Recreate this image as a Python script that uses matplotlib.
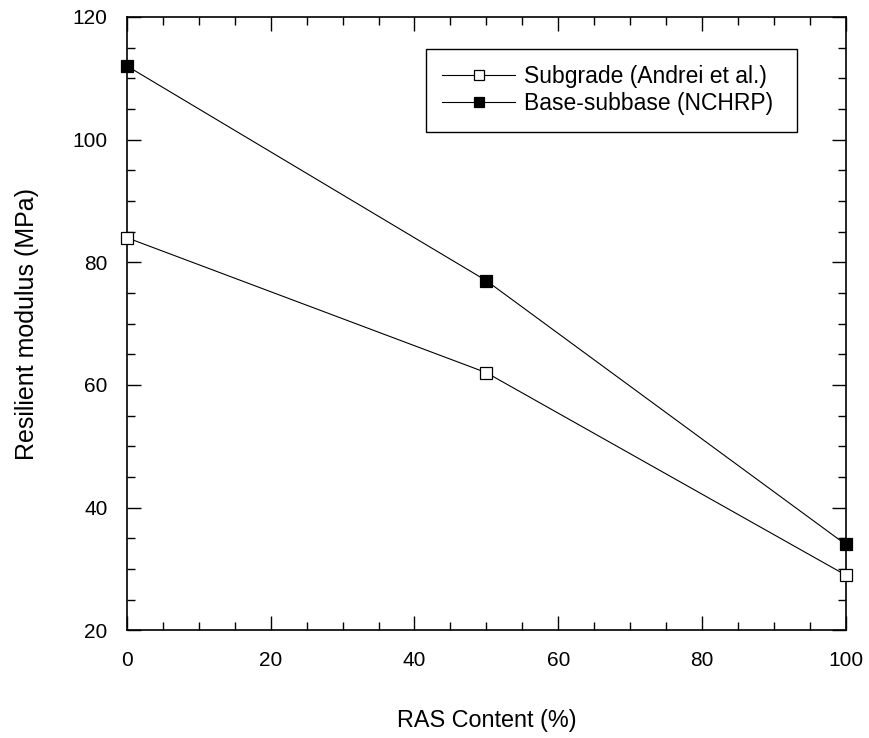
import matplotlib
matplotlib.use("Agg")
import matplotlib.pyplot as plt
from matplotlib.ticker import MultipleLocator

plt.rcParams["font.family"] = ["Liberation Sans", "DejaVu Sans"]

# data
ras_content = [0, 50, 100]
subgrade = [84, 62, 29]
base_subbase = [112, 77, 34]
series_labels = ["Subgrade (Andrei et al.)", "Base-subbase (NCHRP)"]

fig = plt.figure(figsize=(8.7, 7.38), dpi=100)
ax = fig.add_axes([0.146, 0.146, 0.826, 0.831])

ax.plot(ras_content, subgrade, color="black", lw=0.8, marker="s",
        ms=9, mfc="white", mec="black", mew=0.9, label=series_labels[0],
        clip_on=False, zorder=3)
ax.plot(ras_content, base_subbase, color="black", lw=0.8, marker="s",
        ms=9, mfc="black", mec="black", mew=0.9, label=series_labels[1],
        clip_on=False, zorder=3)

ax.set_xlim(0, 100)
ax.set_ylim(20, 120)
ax.xaxis.set_major_locator(MultipleLocator(20))
ax.xaxis.set_minor_locator(MultipleLocator(5))
ax.yaxis.set_major_locator(MultipleLocator(20))
ax.yaxis.set_minor_locator(MultipleLocator(5))
ax.tick_params(which="both", direction="in", top=True, right=True,
               labelsize=15, width=1)
ax.tick_params(axis="x", pad=15)
ax.tick_params(axis="y", pad=14)
ax.tick_params(which="major", length=10)
ax.tick_params(which="minor", length=6)
for sp in ax.spines.values():
    sp.set_linewidth(1.2)

ax.set_xlabel("RAS Content (%)", fontsize=16.8, labelpad=28)
ax.set_ylabel("Resilient modulus (MPa)", fontsize=18, labelpad=24)

# single column legend stretched to the frame width, text left-aligned
leg = ax.legend(loc="upper left", bbox_to_anchor=(0.416, 0.5, 0.516, 0.448),
                mode="expand", borderaxespad=0, fontsize=16.5,
                handlelength=3.2, handletextpad=0.36, borderpad=0.7,
                labelspacing=0.2, markerscale=0.85,
                fancybox=False, edgecolor="black", framealpha=1)
leg.get_frame().set_linewidth(1.0)

fig.savefig("out.png", dpi=100)
